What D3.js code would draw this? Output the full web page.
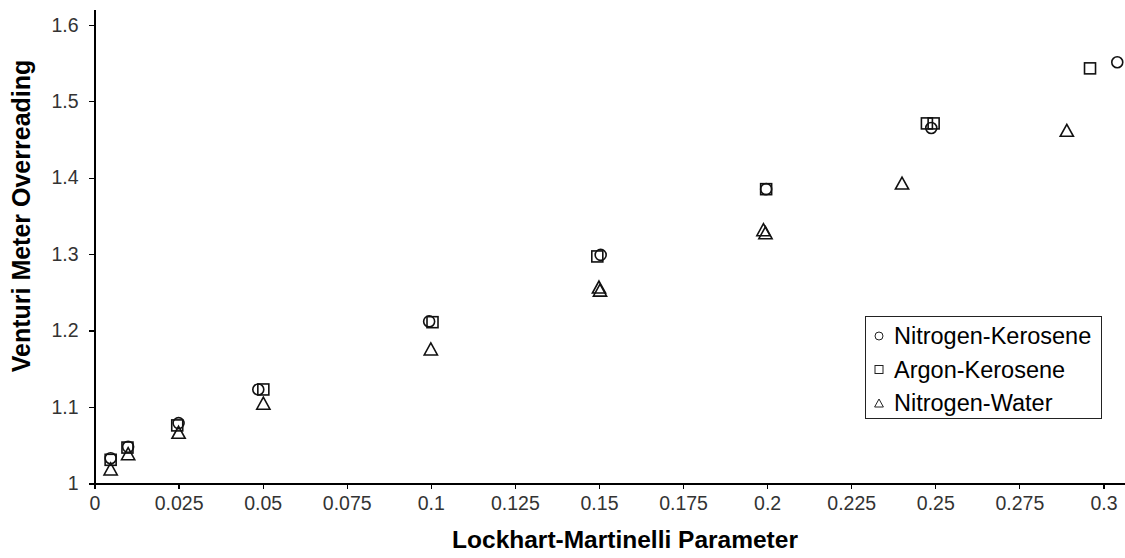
<!DOCTYPE html>
<html>
<head>
<meta charset="utf-8">
<script src="https://cdn.jsdelivr.net/npm/d3@7"></script>
<style>
  body { margin: 0; background: #fff; }
  svg { display: block; font-family: "Liberation Sans", Arial, sans-serif; }
</style>
</head>
<body>
<svg id="chart" width="1125" height="558"></svg>
<script>
// Nitrogen-Kerosene (circles)
const nkX = [0.0048, 0.0100, 0.0250, 0.0487, 0.0995, 0.1505, 0.1997, 0.2488, 0.3041];
const nkY = [1.033, 1.048, 1.079, 1.123, 1.212, 1.299, 1.385, 1.465, 1.551];
// Argon-Kerosene (squares)
const akX = [0.0048, 0.0098, 0.0246, 0.0502, 0.1005, 0.1495, 0.1997, 0.2475, 0.2495, 0.2960];
const akY = [1.031, 1.047, 1.076, 1.123, 1.211, 1.297, 1.385, 1.471, 1.471, 1.543];
// Nitrogen-Water (triangles)
const nwX = [0.0048, 0.0100, 0.0250, 0.0502, 0.1000, 0.1500, 0.1503, 0.1989, 0.1995, 0.2401, 0.2891];
const nwY = [1.019, 1.039, 1.067, 1.105, 1.176, 1.257, 1.253, 1.332, 1.328, 1.393, 1.462];

const xTicks = [0, 0.025, 0.05, 0.075, 0.1, 0.125, 0.15, 0.175, 0.2, 0.225, 0.25, 0.275, 0.3];
const yTicks = [1, 1.1, 1.2, 1.3, 1.4, 1.5, 1.6];
const seriesNames = ["Nitrogen-Kerosene", "Argon-Kerosene", "Nitrogen-Water"];

const svg = d3.select("#chart");

const x = d3.scaleLinear().domain([0, 0.3064]).range([94.5, 1125]);
const y = d3.scaleLinear().domain([1, 1.62]).range([483.5, 9.5]);

function fmt(d) {
	return String(+d.toFixed(3));
}

// marker shapes, half-size s
function marker(g, type, s) {
	if (type === "circle") {
		g.append("circle").attr("r", s);
	}
	else if (type === "square") {
		g.append("rect").attr("x", -s).attr("y", -s).attr("width", 2 * s).attr("height", 2 * s);
	}
	else {
		g.append("path").attr("d", "M0," + (-s) + "L" + (s * 1.1) + "," + s + "L" + (-s * 1.1) + "," + s + "Z");
	}
}

// axes
const xAxis = d3.axisBottom(x).tickValues(xTicks).tickFormat(fmt).tickSizeInner(5).tickSizeOuter(0).tickPadding(8);
const yAxis = d3.axisLeft(y).tickValues(yTicks).tickFormat(fmt).tickSizeInner(6).tickSizeOuter(0).tickPadding(10);

const gx = svg.append("g")
	.attr("transform", "translate(0," + y(1) + ")")
	.call(xAxis);
const gy = svg.append("g")
	.attr("transform", "translate(" + x(0) + ",0)")
	.call(yAxis);

[gx, gy].forEach(g => {
	g.selectAll("path, line")
		.style("stroke", "#000")
		.style("stroke-width", "1.2px")
		.style("shape-rendering", "crispEdges");
	g.selectAll("text")
		.style("font-size", "19.5px")
		.style("font-family", "'Liberation Sans', Arial, sans-serif")
		.style("fill", "#333");
});

// axis titles
svg.append("text")
	.attr("x", 625)
	.attr("y", 548)
	.attr("text-anchor", "middle")
	.style("font-size", "24.5px")
	.style("font-weight", "bold")
	.text("Lockhart-Martinelli Parameter");

svg.append("text")
	.attr("transform", "translate(30," + 216 + ") rotate(-90)")
	.attr("text-anchor", "middle")
	.style("font-size", "25px")
	.style("font-weight", "bold")
	.text("Venturi Meter Overreading");

// points
const series = [
	{ xs: nkX, ys: nkY, type: "circle", s: 5.5 },
	{ xs: akX, ys: akY, type: "square", s: 5.5 },
	{ xs: nwX, ys: nwY, type: "triangle", s: 6 }
];

series.forEach(sr => {
	sr.xs.forEach((v, i) => {
		const g = svg.append("g")
			.attr("transform", "translate(" + x(v) + "," + y(sr.ys[i]) + ")")
			.style("fill", "none")
			.style("stroke", "#111")
			.style("stroke-width", "1.6px");
		marker(g, sr.type, sr.s);
	});
});

// legend
const legend = svg.append("g").attr("transform", "translate(865,316)");
legend.append("rect")
	.attr("x", 0.5).attr("y", 0.5)
	.attr("width", 236).attr("height", 102)
	.style("fill", "#fff")
	.style("stroke", "#222")
	.style("stroke-width", "1px");

const legendTypes = ["circle", "square", "triangle"];
seriesNames.forEach((name, i) => {
	const row = legend.append("g").attr("transform", "translate(0," + (28 + i * 33.5) + ")");
	const m = row.append("g")
		.attr("transform", "translate(14,-8)")
		.style("fill", "none")
		.style("stroke", "#222")
		.style("stroke-width", "1px");
	marker(m, legendTypes[i], 4);
	row.append("text")
		.attr("x", 29)
		.attr("y", 0)
		.style("font-size", "23.5px")
		.style("fill", "#000")
		.text(name);
});
</script>
</body>
</html>
